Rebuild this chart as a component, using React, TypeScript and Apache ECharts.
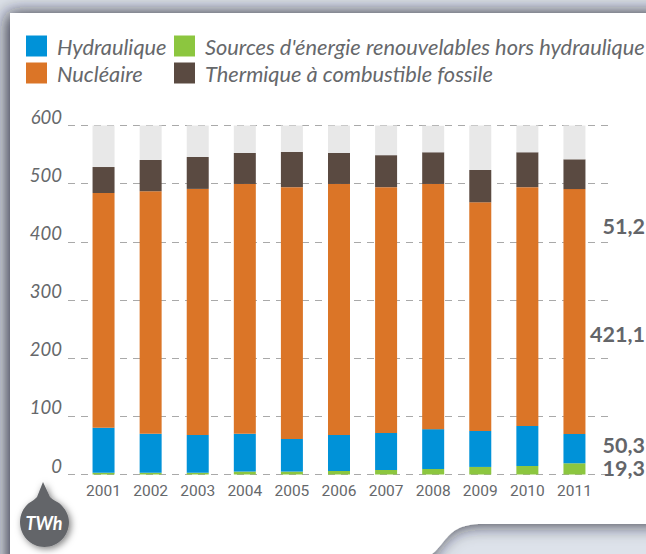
import React, { useEffect, useRef } from "react";
import * as echarts from "echarts";

const years = ["2001","2002","2003","2004","2005","2006","2007","2008","2009","2010","2011"];
const renewables = [3, 3, 3, 5, 5, 6, 7.7, 9.5, 13, 14.6, 19.3];
const hydro = [77.5, 67, 65, 65, 56, 62, 63.6, 68.5, 61.8, 68.8, 50.3];
const nuclear = [403.5, 417, 423, 429.5, 433, 431.5, 422.7, 421.5, 393.2, 410.6, 421.1];
const fossil = [44.6, 53.7, 54.8, 53.2, 60.4, 53.2, 55, 54.5, 55.5, 60, 51.2];
const remainder = [71.4, 59.3, 54.2, 47.3, 45.6, 47.3, 51.7, 45.5, 76.5, 46, 58.1];
const yTicks = [0, 100, 200, 300, 400, 500, 600];
const sideLabels = [
  { text: "51,2", y: 226 },
  { text: "421,1", y: 334 },
  { text: "50,3", y: 444.5 },
  { text: "19,3", y: 468 },
];

const FONT = "Lato";
const GREY = "#66686b";

const cardPath = "M10 13 L670 13 L670 524 L483 524 C458 524 452 532 444 541 C440 546 436 551 432 554 L432 580 L10 580 Z";
const badgePath = "M43 482 L50 497 C53 500 56 501 59 503 C65 508 69 515 69 522 C69 536 58 547 44.5 547 C31 547 20 536 20 522 C20 515 23 508 29 503 C32 501 34 500 37 497 Z";

echarts.graphic.registerShape("card", echarts.graphic.extendPath(cardPath, {}));
echarts.graphic.registerShape("badge", echarts.graphic.extendPath(badgePath, {}));

const legendBase = {
  top: 35, padding: 0, orient: "vertical", itemWidth: 21, itemHeight: 21, itemGap: 5, icon: "rect",
  selectedMode: false, z: 5,
  textStyle: { fontFamily: FONT, fontStyle: "italic", fontSize: 21.8, color: GREY, padding: [0, 0, 2, 5] },
};

export default function App() {
  const ref = useRef<HTMLDivElement>(null);
  useEffect(() => {
    const chart = echarts.init(ref.current!, undefined, { renderer: "svg" });
    const bar = (name: string, data: number[], color: string) => ({
      name, type: "bar", stack: "t", data, barWidth: 22, xAxisIndex: 1, yAxisIndex: 1,
      itemStyle: { color }, z: 3,
    });
    chart.setOption({
      animation: false,
      backgroundColor: "#dde2ea",
      legend: [
        { ...legendBase, left: 26, data: ["Hydraulique", "Nucléaire"] },
        { ...legendBase, left: 174, data: ["Sources d'énergie renouvelables hors hydraulique", "Thermique à combustible fossile"] },
      ],
      grid: [
        { left: 68, right: 36, top: 125.5, height: 349, containLabel: false },
        { left: 80, width: 518, top: 125.5, height: 349, containLabel: false },
      ],
      xAxis: [
        { gridIndex: 0, type: "category", data: years, show: false },
        {
          gridIndex: 1, type: "category", data: years,
          axisLine: { show: false }, axisTick: { show: false },
          axisLabel: { interval: 0, fontFamily: "Roboto", fontSize: 15.5, color: GREY, margin: 8 },
        },
      ],
      yAxis: [
        {
          gridIndex: 0, type: "value", min: 0, max: 600, interval: 100,
          axisLine: { show: false }, axisTick: { show: false },
          splitLine: { show: true, lineStyle: { color: "#a9a9a9", type: [7, 6], width: 1 } },
          axisLabel: {
            formatter: (v: number) => (yTicks.includes(v) ? String(v) : ""),
            fontFamily: FONT, fontStyle: "italic", fontSize: 18.5, color: GREY, margin: 6, verticalAlign: "bottom", lineHeight: 18,
          },
          z: 2,
        },
        { gridIndex: 1, type: "value", min: 0, max: 600, interval: 100, show: false },
      ],
      series: [
        bar("Sources d'énergie renouvelables hors hydraulique", renewables, "#8cc63f"),
        bar("Hydraulique", hydro, "#0092d8"),
        bar("Nucléaire", nuclear, "#db7527"),
        bar("Thermique à combustible fossile", fossil, "#5a4a41"),
        bar("Reste", remainder, "#e8e8e8"),
      ],
      graphic: [
        {
          type: "card", x: 0, y: 0, z: -1, silent: true,
          style: { fill: "#ffffff", shadowBlur: 18, shadowColor: "rgba(20,25,40,0.9)", shadowOffsetX: -3, shadowOffsetY: 0 },
        },
        {
          type: "badge", x: 0, y: 0, z: 6, silent: true,
          style: { fill: "#636569", shadowBlur: 7, shadowColor: "rgba(0,0,0,0.5)", shadowOffsetX: 2, shadowOffsetY: 2 },
        },
        {
          type: "text", x: 44, y: 523, z: 7, silent: true,
          style: { text: "TWh", fill: "#ffffff", font: `italic bold 18px ${FONT}`, textAlign: "center", textVerticalAlign: "middle" },
        },
        ...sideLabels.map((l) => ({
          type: "text", x: 645, y: l.y, z: 7, silent: true,
          style: { text: l.text, fill: "#636569", font: `bold 21.5px ${FONT}`, textAlign: "right", textVerticalAlign: "middle" },
        })),
      ],
    });
    return () => chart.dispose();
  }, []);
  return <div ref={ref} style={{ position: "fixed", left: 0, top: 0, width: 646, height: 554 }} />;
}
